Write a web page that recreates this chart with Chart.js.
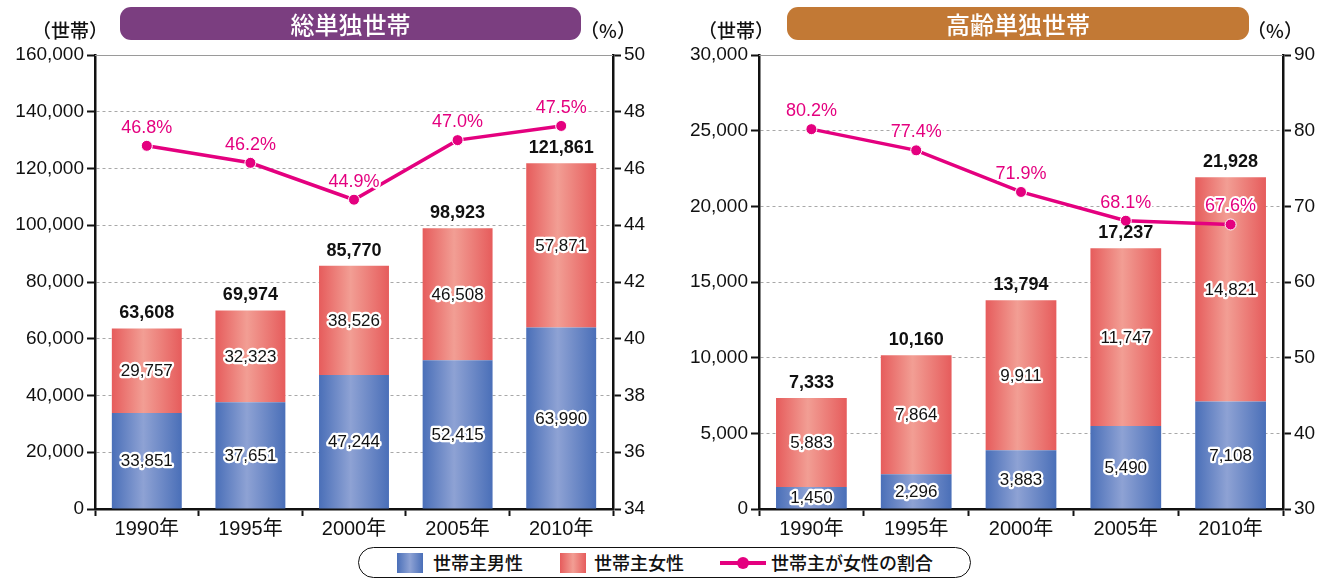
<!DOCTYPE html>
<html><head><meta charset="utf-8">
<script src="https://cdn.jsdelivr.net/npm/chart.js@4/dist/chart.umd.min.js"></script>
<style>
html,body{margin:0;padding:0;background:#fff;}
body{width:1323px;height:580px;position:relative;overflow:hidden;font-family:"Liberation Sans","Noto Sans CJK JP",sans-serif;}
canvas{position:absolute;top:0;}
#c1{left:0;}
#c2{left:660px;}
#legend{position:absolute;left:358px;top:547px;width:611px;height:29px;border:1.6px solid #111;border-radius:16px;box-sizing:content-box;}
#legend .sw{position:absolute;top:5px;width:26px;height:20px;}
#legend .tx{position:absolute;top:2px;font-size:18px;line-height:24px;color:#111;font-family:"Noto Sans CJK JP",sans-serif;font-weight:500;}
#legend .ln{position:absolute;top:13px;height:4px;width:46px;background:#e4007f;}
#legend .dot{position:absolute;top:9px;width:12px;height:12px;border-radius:6px;background:#e4007f;}
</style>
</head><body>
<canvas id="c1" width="660" height="545"></canvas>
<canvas id="c2" width="663" height="545"></canvas>
<div id="legend">
  <div class="sw" style="left:38px;background:linear-gradient(90deg,#4a6fb8,#8ea2d4 50%,#4a6fb8);"></div>
  <div class="tx" style="left:74px;">世帯主男性</div>
  <div class="sw" style="left:201px;background:linear-gradient(90deg,#e65c5c,#f29e94 50%,#e65c5c);"></div>
  <div class="tx" style="left:235px;">世帯主女性</div>
  <div class="ln" style="left:361px;"></div>
  <div class="dot" style="left:378px;"></div>
  <div class="tx" style="left:412px;">世帯主が女性の割合</div>
</div>
<script>
// ---- data ----
const years = ['1990年','1995年','2000年','2005年','2010年'];
const totalMale   = [33851, 37651, 47244, 52415, 63990];
const totalFemale = [29757, 32323, 38526, 46508, 57871];
const totalSum    = [63608, 69974, 85770, 98923, 121861];
const totalPct    = [46.8, 46.2, 44.9, 47.0, 47.5];
const elderMale   = [1450, 2296, 3883, 5490, 7108];
const elderFemale = [5883, 7864, 9911, 11747, 14821];
const elderSum    = [7333, 10160, 13794, 17237, 21928];
const elderPct    = [80.2, 77.4, 71.9, 68.1, 67.6];
const totalAxis   = {min:0, max:160000, step:20000};
const totalPctAxis= {min:34, max:50, step:2};
const elderAxis   = {min:0, max:30000, step:5000};
const elderPctAxis= {min:30, max:90, step:10};
const titles = ['総単独世帯','高齢単独世帯'];
const unitLeft = '（世帯）', unitRight = '（%）';
const legendNames = ['世帯主男性','世帯主女性','世帯主が女性の割合'];

const FONT = '"Liberation Sans","Noto Sans CJK JP",sans-serif';
const JFONT = '"Noto Sans CJK JP",sans-serif';
const MAG = '#e4007f';
const BAR_PCT = 0.675;

function grad(c0, c1){
  return ctx => {
    if (ctx.type !== 'data') return c0;
    const ch = ctx.chart, a = ch.chartArea;
    if (!a || !ch.scales.x) return c0;
    const cx = ch.scales.x.getPixelForValue(ctx.dataIndex);
    if (!isFinite(cx)) return c0;
    const w = a.width / years.length * BAR_PCT;
    const g = ch.ctx.createLinearGradient(cx - w/2, 0, cx + w/2, 0);
    g.addColorStop(0, c0); g.addColorStop(0.45, c1); g.addColorStop(1, c0);
    return g;
  };
}

const fmt = v => v.toLocaleString('en-US');

const labelPlugin = {
  id: 'customLabels',
  afterDatasetsDraw(chart, args, o){
    const ctx = chart.ctx;
    const m0 = chart.getDatasetMeta(0), m1 = chart.getDatasetMeta(1), m2 = chart.getDatasetMeta(2);
    const d = chart.data.datasets;
    ctx.save();
    ctx.textAlign = 'center'; ctx.textBaseline = 'middle'; ctx.lineJoin = 'round';
    // segment labels
    ctx.font = '17px ' + FONT;
    [m0, m1].forEach((m, k) => {
      m.data.forEach((el, i) => {
        const y = (el.y + el.base) / 2;
        const t = fmt(d[k].data[i]);
        ctx.lineWidth = 4.5; ctx.strokeStyle = '#fff'; ctx.strokeText(t, el.x, y + 1);
        ctx.fillStyle = '#111'; ctx.fillText(t, el.x, y + 1);
      });
    });
    // totals
    ctx.font = 'bold 18px ' + FONT;
    ctx.fillStyle = '#111';
    m1.data.forEach((el, i) => {
      ctx.fillText(fmt(o.totals[i]), el.x, el.y - 15);
    });
    // pct labels
    ctx.font = '18px ' + FONT;
    m2.data.forEach((el, i) => {
      const t = d[2].data[i].toFixed(1) + '%';
      ctx.lineWidth = 4; ctx.strokeStyle = '#fff'; ctx.strokeText(t, el.x, el.y - 18);
      ctx.fillStyle = MAG; ctx.fillText(t, el.x, el.y - 18);
    });
    ctx.restore();
  },
  afterDraw(chart, args, o){
    const ctx = chart.ctx, a = chart.chartArea;
    ctx.save();
    // solid top grid line
    ctx.strokeStyle = '#9a9a9a'; ctx.lineWidth = 1;
    ctx.beginPath(); ctx.moveTo(a.left, a.top + 0.5); ctx.lineTo(a.right, a.top + 0.5); ctx.stroke();
    // pill
    const p = o.pill;
    ctx.fillStyle = o.pillColor;
    ctx.beginPath();
    ctx.roundRect(p[0], p[1], p[2] - p[0], p[3] - p[1], 11);
    ctx.fill();
    ctx.fillStyle = '#fff';
    ctx.font = '500 24px ' + JFONT;
    ctx.textAlign = 'center'; ctx.textBaseline = 'middle';
    ctx.fillText(o.title, (p[0] + p[2]) / 2, (p[1] + p[3]) / 2 + 1);
    // units
    ctx.fillStyle = '#111';
    ctx.font = '500 19px ' + JFONT;
    ctx.fillText(unitLeft, o.unitL, 31);
    ctx.fillText(unitRight, o.unitR, 31);
    ctx.restore();
  }
};

function makeChart(id, male, female, sums, pct, ax, pax, leftW, rightW, title, pillColor, pill, unitL, unitR){
  const H = 545;
  return new Chart(document.getElementById(id), {
    data: {
      labels: years,
      datasets: [
        {type:'bar', label: legendNames[0], data: male, yAxisID:'y', order:2, stack:'s',
         backgroundColor: grad('#4a6fb8', '#8ea2d4'), barPercentage: BAR_PCT, categoryPercentage: 1},
        {type:'bar', label: legendNames[1], data: female, yAxisID:'y', order:2, stack:'s',
         backgroundColor: grad('#e65c5c', '#f29e94'), barPercentage: BAR_PCT, categoryPercentage: 1},
        {type:'line', label: legendNames[2], data: pct, yAxisID:'y1', order:0,
         borderColor: MAG, backgroundColor: MAG, borderWidth: 3.5, pointRadius: 5.5,
         pointBackgroundColor: MAG, pointBorderColor: '#fff', pointBorderWidth: 1, tension: 0}
      ]
    },
    options: {
      responsive: false, animation: false,
      layout: {padding: {top: 55, left: 0, right: 0, bottom: 0}},
      plugins: {
        legend: {display: false}, tooltip: {enabled: false},
        customLabels: {totals: sums, title, pillColor, pill, unitL, unitR}
      },
      scales: {
        x: {
          stacked: true, offset: true,
          grid: {offset: true, drawOnChartArea: false, drawTicks: true, tickLength: 7, tickColor: '#111', tickWidth: 2},
          border: {color: '#111', width: 2.5},
          ticks: {color: '#111', font: {size: 20, family: FONT}, padding: 1},
          afterFit: s => { s.height = H - 509; }
        },
        y: {
          stacked: true, min: ax.min, max: ax.max, position: 'left',
          ticks: {stepSize: ax.step, color: '#111', font: {size: 19, family: FONT}, padding: 3,
                  callback: v => fmt(v)},
          grid: {color: '#a8a8a8', lineWidth: 1, drawTicks: true, tickLength: 8, tickColor: '#111', tickWidth: 2},
          border: {color: '#111', width: 2.5, dash: c => (c.tick && c.tick.value !== ax.max) ? [3, 3] : []},
          afterFit: s => { s.width = leftW; }
        },
        y1: {
          min: pax.min, max: pax.max, position: 'right',
          ticks: {stepSize: pax.step, color: '#111', font: {size: 19, family: FONT}, padding: 3},
          grid: {drawOnChartArea: false, drawTicks: true, tickLength: 8, tickColor: '#111', tickWidth: 2},
          border: {color: '#111', width: 2.5},
          afterFit: s => { s.width = rightW; }
        }
      }
    },
    plugins: [labelPlugin]
  });
}

makeChart('c1', totalMale, totalFemale, totalSum, totalPct, totalAxis, totalPctAxis, 95, 660 - 613,
  titles[0], '#7b3e80', [120, 7, 581, 40], 70, 608);
makeChart('c2', elderMale, elderFemale, elderSum, elderPct, elderAxis, elderPctAxis, 759 - 660, 663 - (1283 - 660),
  titles[1], '#c27935', [787 - 660, 7, 1249 - 660, 40], 736 - 660, 1275 - 660);
</script>
</body></html>
